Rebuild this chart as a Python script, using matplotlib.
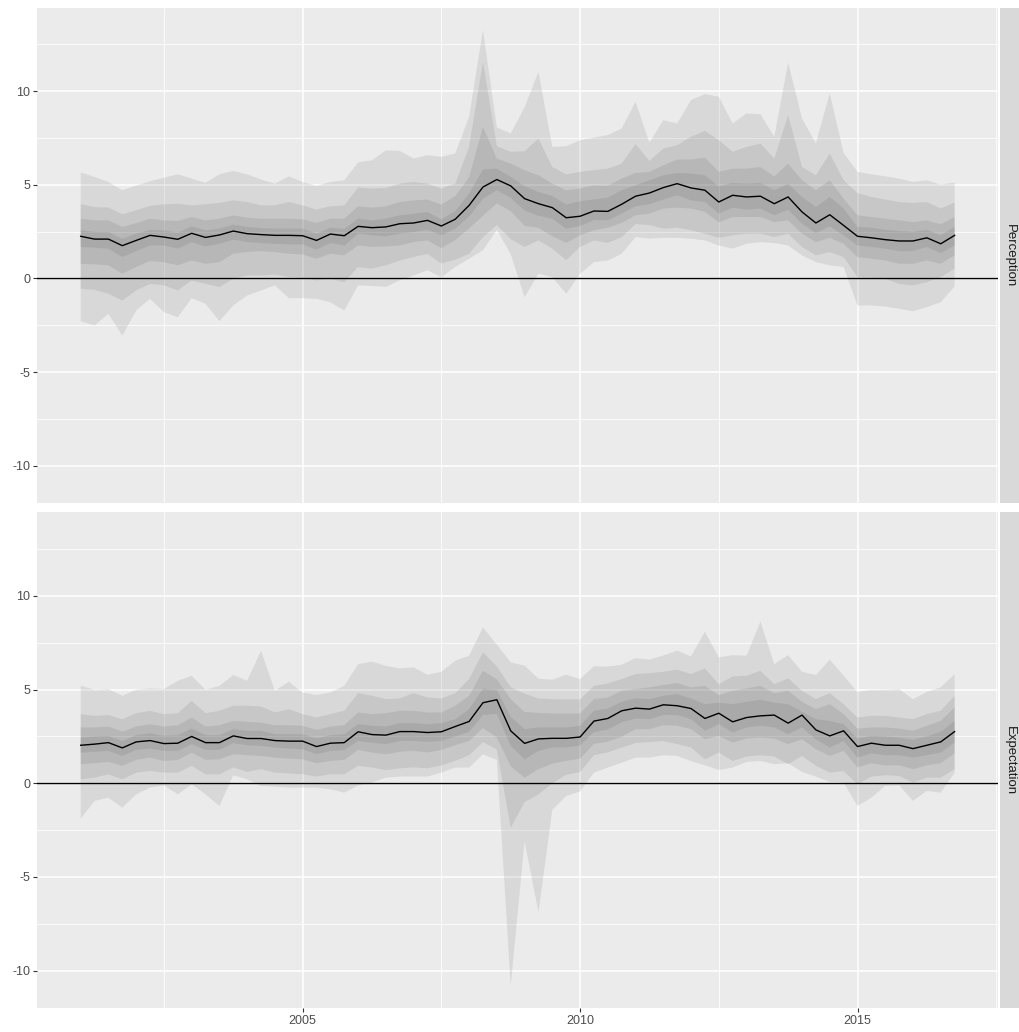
import numpy as np
import matplotlib
matplotlib.use("Agg")
import matplotlib.pyplot as plt

# Quarterly observations, 2001Q1 .. 2016Q4
start_year, end_year = 2001, 2017
time = np.arange(start_year, end_year, 0.25)

# ---- Perception: median and four nested quantile bands (outer -> inner) ----
perc_mid = [2.25, 2.10, 2.10, 1.75, 2.03, 2.30, 2.21, 2.09, 2.41, 2.19, 2.32, 2.53, 2.39, 2.34, 2.30, 2.30,
            2.28, 2.03, 2.37, 2.28, 2.78, 2.71, 2.75, 2.92, 2.96, 3.10, 2.80, 3.16, 3.90, 4.88, 5.28, 4.94,
            4.26, 3.99, 3.78, 3.24, 3.32, 3.60, 3.58, 3.96, 4.39, 4.56, 4.85, 5.06, 4.83, 4.71, 4.08, 4.44,
            4.35, 4.39, 3.99, 4.35, 3.55, 2.96, 3.40, 2.83, 2.25, 2.17, 2.07, 2.00, 2.00, 2.17, 1.85, 2.30]
perc_b1_hi = [5.65, 5.42, 5.15, 4.71, 4.96, 5.19, 5.37, 5.56, 5.33, 5.10, 5.56, 5.74, 5.56, 5.28, 5.06, 5.45,
              5.15, 4.94, 5.15, 5.24, 6.19, 6.31, 6.84, 6.81, 6.40, 6.58, 6.49, 6.67, 8.63, 13.26, 8.06, 7.74,
              9.13, 11.03, 7.02, 7.06, 7.38, 7.52, 7.65, 8.00, 9.43, 7.24, 8.45, 8.27, 9.52, 9.84, 9.70, 8.27,
              8.81, 8.77, 7.56, 11.52, 8.54, 7.20, 9.88, 6.70, 5.69, 5.56, 5.45, 5.33, 5.15, 5.24, 5.01, 5.12]
perc_b1_lo = [-2.28, -2.51, -1.89, -3.05, -1.71, -1.09, -1.80, -2.07, -1.05, -1.35, -2.28, -1.44, -0.91, -0.64,
              -0.37, -1.05, -1.05, -1.09, -1.27, -1.71, -0.37, -0.40, -0.45, -0.10, 0.16, 0.43, 0.07, 0.61,
              1.05, 1.50, 2.60, 1.30, -1.00, 0.25, 0.07, -0.82, 0.25, 0.87, 0.96, 1.32, 2.21, 2.12, 2.17, 2.17,
              2.12, 2.03, 1.76, 1.59, 1.85, 1.94, 1.89, 1.76, 1.23, 0.87, 0.70, 0.61, -1.44, -1.44, -1.50, -1.62,
              -1.75, -1.53, -1.27, -0.43]
perc_b2_hi = [3.96, 3.81, 3.78, 3.42, 3.64, 3.87, 3.96, 3.99, 3.90, 3.96, 4.03, 4.17, 4.08, 3.90, 3.90, 4.08,
              3.90, 3.67, 3.85, 3.90, 4.85, 4.80, 4.83, 5.06, 5.15, 5.06, 4.80, 5.06, 7.02, 11.57, 7.06, 6.76,
              6.79, 7.47, 5.95, 5.56, 5.69, 5.78, 5.86, 6.13, 7.17, 6.27, 6.93, 7.11, 7.56, 7.88, 7.38, 6.76,
              7.02, 7.20, 6.40, 8.72, 5.95, 5.51, 6.67, 5.24, 4.56, 4.35, 4.21, 4.08, 4.03, 4.08, 3.73, 4.05]
perc_b2_lo = [-0.55, -0.61, -0.82, -1.18, -0.64, -0.29, -0.37, -0.64, -0.11, -0.29, -0.46, -0.02, 0.16, 0.16,
              0.21, 0.07, 0.04, -0.11, -0.02, -0.20, 0.61, 0.52, 0.70, 0.95, 1.15, 1.30, 0.80, 1.00, 1.32, 2.21,
              2.85, 2.10, 1.68, 2.03, 1.59, 0.98, 1.68, 2.03, 1.90, 2.20, 2.90, 2.85, 2.66, 2.71, 2.57, 2.39,
              2.17, 2.30, 2.39, 2.39, 2.21, 2.39, 1.68, 1.23, 1.41, 1.14, 0.07, 0.04, -0.02, -0.29, -0.37, -0.20,
              0.07, 0.52]
perc_b3_hi = [3.19, 3.10, 3.10, 2.75, 2.96, 3.19, 3.10, 3.07, 3.28, 3.10, 3.19, 3.37, 3.24, 3.19, 3.19, 3.19,
              3.16, 2.96, 3.19, 3.19, 3.85, 3.78, 3.85, 4.08, 4.17, 4.21, 3.95, 4.40, 5.40, 8.09, 6.40, 6.13,
              5.78, 5.51, 5.06, 4.71, 4.80, 4.97, 4.95, 5.33, 5.63, 5.69, 6.04, 6.35, 6.35, 6.45, 5.69, 5.86,
              5.86, 5.95, 5.45, 6.13, 5.24, 4.71, 5.24, 4.26, 3.37, 3.28, 3.19, 3.10, 3.01, 3.10, 2.89, 3.28]
perc_b3_lo = [0.78, 0.75, 0.70, 0.25, 0.61, 0.93, 0.87, 0.70, 0.96, 0.78, 0.87, 1.32, 1.41, 1.46, 1.41, 1.32,
              1.28, 1.05, 1.32, 1.23, 1.76, 1.68, 1.71, 1.76, 1.94, 2.03, 1.62, 2.05, 2.66, 3.35, 4.00, 3.60,
              2.80, 2.70, 2.25, 1.90, 2.30, 2.57, 2.71, 2.96, 3.37, 3.46, 3.73, 3.78, 3.73, 3.55, 2.99, 3.28,
              3.28, 3.28, 3.01, 3.10, 2.39, 1.94, 2.17, 1.85, 1.14, 1.05, 0.96, 0.78, 0.78, 0.96, 0.78, 1.23]
perc_b4_hi = [2.57, 2.48, 2.48, 2.12, 2.39, 2.60, 2.57, 2.44, 2.78, 2.57, 2.66, 2.87, 2.75, 2.69, 2.66, 2.66,
              2.66, 2.39, 2.71, 2.64, 3.19, 3.10, 3.19, 3.37, 3.46, 3.55, 3.15, 3.60, 4.53, 5.82, 5.86, 5.42,
              4.92, 4.62, 4.40, 3.95, 4.12, 4.22, 4.31, 4.71, 4.97, 5.24, 5.51, 5.63, 5.60, 5.51, 4.92, 5.10,
              5.06, 5.10, 4.71, 5.06, 4.35, 3.81, 4.35, 3.73, 2.75, 2.71, 2.60, 2.53, 2.48, 2.60, 2.30, 2.75]
perc_b4_lo = [1.68, 1.64, 1.59, 1.14, 1.46, 1.76, 1.76, 1.59, 1.94, 1.71, 1.85, 2.07, 1.94, 1.89, 1.85, 1.82,
              1.82, 1.53, 1.89, 1.76, 2.39, 2.30, 2.25, 2.39, 2.48, 2.60, 2.30, 2.65, 3.30, 4.25, 4.71, 4.30,
              3.62, 3.35, 3.18, 2.65, 2.80, 3.12, 3.10, 3.46, 3.85, 3.96, 4.21, 4.44, 4.17, 4.08, 3.46, 3.78,
              3.67, 3.73, 3.37, 3.67, 2.92, 2.42, 2.78, 2.30, 1.76, 1.68, 1.59, 1.46, 1.46, 1.68, 1.35, 1.76]

# ---- Expectation: median and four nested quantile bands (outer -> inner) ----
expc_mid = [2.03, 2.09, 2.17, 1.89, 2.21, 2.28, 2.12, 2.14, 2.50, 2.17, 2.17, 2.53, 2.39, 2.39, 2.28, 2.25,
            2.25, 1.96, 2.14, 2.17, 2.75, 2.60, 2.57, 2.76, 2.76, 2.71, 2.75, 3.03, 3.30, 4.30, 4.46, 2.80,
            2.13, 2.37, 2.40, 2.40, 2.47, 3.32, 3.46, 3.87, 4.01, 3.96, 4.19, 4.14, 3.99, 3.46, 3.74, 3.28,
            3.51, 3.60, 3.64, 3.21, 3.64, 2.85, 2.53, 2.80, 1.96, 2.14, 2.03, 2.03, 1.85, 2.03, 2.21, 2.76]
expc_b1_hi = [5.20, 4.99, 5.03, 4.67, 4.99, 5.06, 5.03, 5.47, 5.74, 4.99, 5.20, 5.78, 5.47, 7.08, 4.94, 5.42,
              4.85, 4.71, 4.85, 5.20, 6.36, 6.49, 6.27, 6.13, 6.19, 5.79, 5.95, 6.54, 6.81, 8.32, 7.40, 6.45,
              6.28, 5.58, 5.53, 5.80, 5.56, 6.25, 6.23, 6.33, 6.68, 6.60, 6.82, 7.08, 6.77, 8.09, 6.72, 6.84,
              6.81, 8.63, 6.36, 6.84, 5.95, 5.78, 6.60, 5.74, 4.88, 4.99, 4.99, 5.03, 4.49, 4.88, 5.12, 5.83]
expc_b1_lo = [-1.89, -0.94, -0.77, -1.30, -0.59, -0.23, -0.11, -0.59, -0.05, -0.59, -1.21, 0.43, 0.21, -0.14,
              -0.18, -0.23, -0.23, -0.23, -0.32, -0.50, -0.11, 0.04, 0.30, 0.36, 0.36, 0.36, 0.57, 0.84, 0.84,
              1.55, 1.25, -10.80, -3.10, -6.88, -1.42, -0.68, -0.44, 0.57, 0.84, 1.10, 1.37, 1.37, 1.50, 1.46,
              1.19, 0.96, 0.71, 0.84, 1.14, 1.19, 1.02, 1.07, 0.61, 0.36, 0.07, 0.04, -1.21, -0.77, -0.14, -0.11,
              -0.94, -0.41, -0.50, 0.57]
expc_b2_hi = [3.69, 3.60, 3.64, 3.42, 3.74, 3.87, 3.69, 3.74, 4.40, 3.74, 3.87, 4.14, 4.14, 4.10, 3.78, 3.96,
              3.69, 3.51, 3.69, 3.87, 4.81, 4.67, 4.49, 4.53, 4.81, 4.58, 4.53, 4.81, 5.56, 6.99, 6.23, 5.13,
              4.78, 4.53, 4.49, 4.48, 4.48, 5.20, 5.32, 5.56, 5.83, 5.88, 5.95, 6.06, 5.83, 6.13, 5.29, 5.70,
              5.74, 6.01, 5.29, 5.60, 4.94, 4.49, 4.81, 4.22, 3.51, 3.60, 3.60, 3.51, 3.42, 3.69, 3.87, 4.67]
expc_b2_lo = [0.21, 0.30, 0.48, 0.21, 0.57, 0.66, 0.57, 0.57, 0.93, 0.48, 0.48, 0.85, 0.61, 0.75, 0.57, 0.53,
              0.48, 0.36, 0.48, 0.48, 0.93, 0.84, 0.70, 0.80, 0.85, 0.80, 0.95, 1.20, 1.50, 2.20, 1.80, -2.37,
              -1.00, -0.60, 0.00, 0.45, 0.60, 1.50, 1.65, 1.90, 2.15, 2.20, 2.26, 2.09, 1.91, 1.28, 1.64, 1.19,
              1.43, 1.50, 1.43, 1.02, 1.46, 0.93, 0.57, 0.66, -0.05, 0.36, 0.43, 0.39, 0.04, 0.30, 0.30, 0.75]
expc_b3_hi = [2.98, 2.98, 3.03, 2.75, 3.03, 3.16, 3.03, 3.10, 3.51, 3.03, 3.10, 3.33, 3.28, 3.24, 3.10, 3.10,
              3.07, 2.85, 3.03, 3.10, 3.78, 3.69, 3.74, 3.87, 3.87, 3.78, 3.78, 4.14, 4.67, 6.01, 5.55, 4.49,
              3.81, 3.76, 3.72, 3.72, 3.73, 4.49, 4.58, 4.94, 5.03, 5.12, 5.25, 5.35, 5.12, 5.20, 4.71, 4.94,
              5.06, 5.20, 4.81, 4.94, 4.35, 3.96, 4.22, 3.69, 2.92, 2.98, 2.98, 2.92, 2.80, 3.07, 3.33, 4.05]
expc_b3_lo = [1.02, 1.07, 1.14, 0.93, 1.25, 1.37, 1.19, 1.25, 1.64, 1.25, 1.28, 1.55, 1.50, 1.46, 1.37, 1.32,
              1.28, 1.07, 1.19, 1.25, 1.78, 1.64, 1.55, 1.68, 1.73, 1.64, 1.78, 2.03, 2.26, 2.95, 2.45, 0.90,
              0.30, 0.75, 1.05, 1.20, 1.32, 2.10, 2.22, 2.48, 2.89, 2.89, 3.10, 3.07, 2.89, 2.35, 2.53, 2.17,
              2.39, 2.44, 2.39, 2.09, 2.35, 1.82, 1.46, 1.73, 0.84, 1.07, 0.96, 0.96, 0.75, 0.96, 1.07, 1.60]
expc_b4_hi = [2.44, 2.50, 2.53, 2.26, 2.57, 2.67, 2.53, 2.57, 2.92, 2.57, 2.57, 2.89, 2.80, 2.80, 2.62, 2.62,
              2.62, 2.39, 2.57, 2.62, 3.16, 3.07, 3.03, 3.21, 3.21, 3.16, 3.21, 3.42, 3.96, 5.05, 4.98, 3.55,
              2.89, 2.98, 2.98, 2.98, 3.07, 3.87, 3.99, 4.35, 4.53, 4.49, 4.67, 4.76, 4.53, 4.22, 4.31, 4.22,
              4.35, 4.46, 4.31, 4.22, 3.81, 3.42, 3.33, 3.16, 2.39, 2.53, 2.50, 2.44, 2.32, 2.50, 2.75, 3.33]
expc_b4_lo = [1.64, 1.68, 1.73, 1.46, 1.78, 1.85, 1.73, 1.73, 2.09, 1.78, 1.78, 2.14, 2.03, 2.00, 1.91, 1.85,
              1.82, 1.55, 1.73, 1.78, 2.26, 2.17, 2.09, 2.26, 2.26, 2.21, 2.26, 2.50, 2.75, 3.65, 3.70, 2.00,
              1.28, 1.73, 1.91, 1.91, 2.02, 2.73, 2.87, 3.26, 3.46, 3.42, 3.65, 3.64, 3.42, 2.80, 3.16, 2.71,
              2.98, 3.07, 2.98, 2.62, 2.98, 2.35, 1.91, 2.26, 1.37, 1.60, 1.50, 1.50, 1.37, 1.50, 1.64, 2.17]

panels = [
    ("Perception", perc_mid, [(perc_b1_lo, perc_b1_hi), (perc_b2_lo, perc_b2_hi),
                              (perc_b3_lo, perc_b3_hi), (perc_b4_lo, perc_b4_hi)]),
    ("Expectation", expc_mid, [(expc_b1_lo, expc_b1_hi), (expc_b2_lo, expc_b2_hi),
                               (expc_b3_lo, expc_b3_hi), (expc_b4_lo, expc_b4_hi)]),
]

x_major = [2005, 2010, 2015]
x_minor = [2002.5, 2007.5, 2012.5, 2017.5]
y_major = [-10, -5, 0, 5, 10]
y_minor = [-7.5, -2.5, 2.5, 7.5, 12.5]

plt.rcParams["font.family"] = ["Liberation Sans", "DejaVu Sans"]

W, H = 1019, 1032
fig = plt.figure(figsize=(W / 100, H / 100), dpi=100)
fig.patch.set_facecolor("white")


def rect(left, top, right, bottom):
    return [left / W, 1 - bottom / H, (right - left) / W, (bottom - top) / H]


# shared scales with ggplot-style 5% expansion
all_vals = np.concatenate([np.asarray(v) for _, m, bands in panels for pair in bands for v in pair])
ymin, ymax = all_vals.min(), all_vals.max()
ypad = 0.05 * (ymax - ymin)
xpad = 0.05 * (time[-1] - time[0])

panel_boxes = [(37, 7.5, 998.3, 503.3), (37, 512.3, 998.3, 1008.2)]

for k, ((name, mid, bands), box) in enumerate(zip(panels, panel_boxes)):
    ax = fig.add_axes(rect(*box))
    ax.set_facecolor("#EBEBEB")
    ax.set_xlim(time[0] - xpad, time[-1] + xpad)
    ax.set_ylim(ymin - ypad, ymax + ypad)
    for s in ax.spines.values():
        s.set_visible(False)

    for xv in x_minor:
        ax.axvline(xv, color="white", lw=0.55, zorder=0.5)
    for xv in x_major:
        ax.axvline(xv, color="white", lw=1.1, zorder=0.6)
    for yv in y_minor:
        ax.axhline(yv, color="white", lw=0.55, zorder=0.5)
    for yv in y_major:
        ax.axhline(yv, color="white", lw=1.1, zorder=0.6)

    for lo, hi in bands:
        ax.fill_between(time, lo, hi, facecolor="#333333", alpha=0.1, lw=0, zorder=2)

    ax.axhline(0, color="black", lw=1.0, zorder=3)
    ax.plot(time, mid, color="black", lw=1.0, zorder=4)

    ax.set_yticks(y_major)
    ax.set_yticklabels([str(v) for v in y_major])
    ax.set_xticks(x_major)
    if k == 1:
        ax.set_xticklabels([str(v) for v in x_major])
    else:
        ax.set_xticklabels([])
    ax.tick_params(axis="both", colors="#333333", length=3, width=0.8, labelsize=9,
                   labelcolor="#4D4D4D", pad=2)
    ax.tick_params(axis="x", bottom=(k == 1))

    # facet strip on the right
    sx = fig.add_axes(rect(1000.3, box[1], 1019 + 20, box[3]))
    sx.set_facecolor("#D9D9D9")
    sx.set_xticks([])
    sx.set_yticks([])
    for s in sx.spines.values():
        s.set_visible(False)
    sx.text(9.3 / 38.7, 0.5, name, rotation=-90, ha="center", va="center",
            fontsize=9.5, color="#1A1A1A", transform=sx.transAxes)

fig.savefig("out.png", dpi=100, facecolor="white")
